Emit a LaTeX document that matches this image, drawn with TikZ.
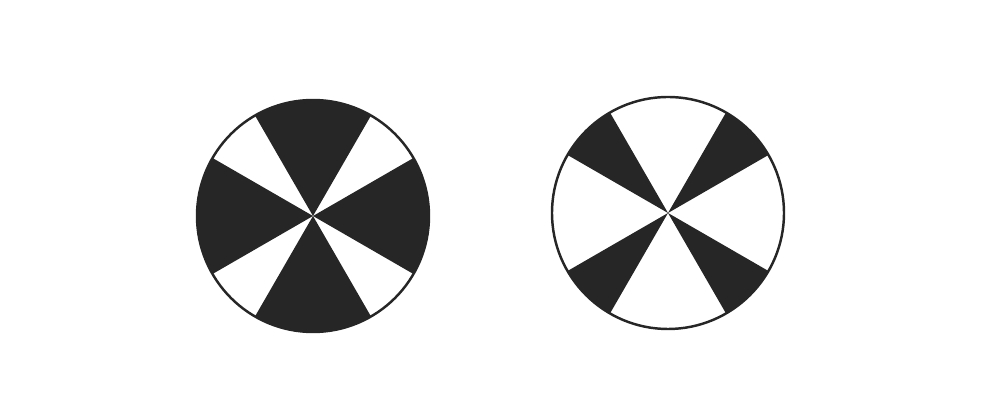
\documentclass[tikz,border=0pt]{standalone}
\usepackage{tikz}

\begin{document}
\begin{tikzpicture}[x=0.2mm,y=0.2mm,
  sector/.style={fill=black!85},
  rim/.style={draw=black!85,line width=1.4pt}]
\useasboundingbox (0,0) rectangle (985,415);
\coordinate (left) at (313,199);
\coordinate (right) at (668,202);
% left wheel: wide dark sectors
\foreach \a in {-30,60,150,240}{
  \fill[sector] (left) -- ++(\a:116) arc[start angle=\a,delta angle=60,radius=116] -- cycle;}
% right wheel: narrow dark sectors
\foreach \a in {30,120,210,300}{
  \fill[sector] (right) -- ++(\a:116) arc[start angle=\a,delta angle=30,radius=116] -- cycle;}
\draw[rim] (left) circle (116);
\draw[rim] (right) circle (116);
\end{tikzpicture}
\end{document}
